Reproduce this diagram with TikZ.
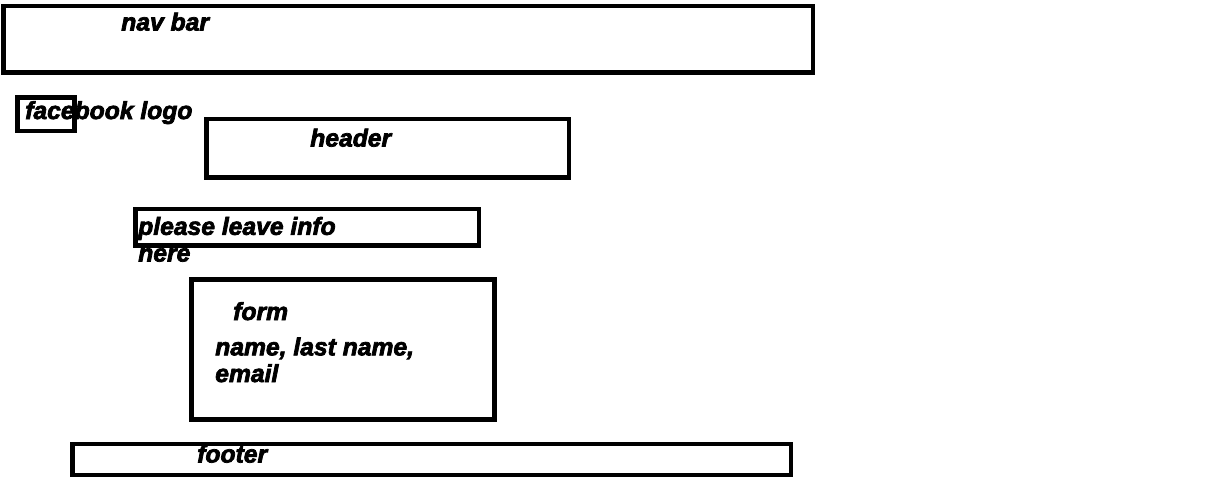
\documentclass[tikz,border=0pt]{standalone}
\usepackage{fontspec}
\setmainfont{Liberation Sans}[BoldItalicFeatures={FakeBold=3}]

\begin{document}
\begin{tikzpicture}[x=0.75pt,y=0.75pt,yscale=-1,xscale=1,
        wire/.style={line width=3.6pt},
        sketchtext/.style={anchor=base west,inner sep=0pt,align=left,font=\bfseries\itshape\fontsize{18.5}{20}\selectfont}]
        \useasboundingbox (0,0) rectangle (1210,479);

        % Text Node
        \draw (121,30.5) node [sketchtext] (navtext) {nav bar};
        % Text Node
        \draw (25,119) node [sketchtext] (logotext) {facebook logo};
        % Text Node
        \draw (310,146.5) node [sketchtext] (headertext) {header};
        % Text Node (base is on the last line)
        \draw (138,261.5) node [sketchtext] (infotext) {please leave info\\here};
        % Text Node
        \draw (233,320) node [sketchtext] (formtext) {form};
        % Text Node (base is on the last line)
        \draw (215,382) node [sketchtext] (fieldtext) {name, last name,\\email};
        % Text Node
        \draw (197,462.5) node [sketchtext] (footertext) {footer};

        %Shape: Rectangle [id:navbar]
        \draw [wire]  (3.5,6) rectangle (813,72.5) ;
        %Shape: Rectangle [id:logo]
        \draw [wire]  (17.5,97.5) rectangle (74.5,131) ;
        %Shape: Rectangle [id:header]
        \draw [wire]  (206.5,119) rectangle (569,177.5) ;
        %Shape: Rectangle [id:info]
        \draw [wire]  (135.5,209) rectangle (479,245.5) ;
        %Shape: Rectangle [id:form]
        \draw [wire]  (191.5,279.5) rectangle (494.5,419.5) ;
        %Shape: Rectangle [id:footer]
        \draw [wire]  (72.5,444) rectangle (791,475) ;
\end{tikzpicture}
\end{document}
